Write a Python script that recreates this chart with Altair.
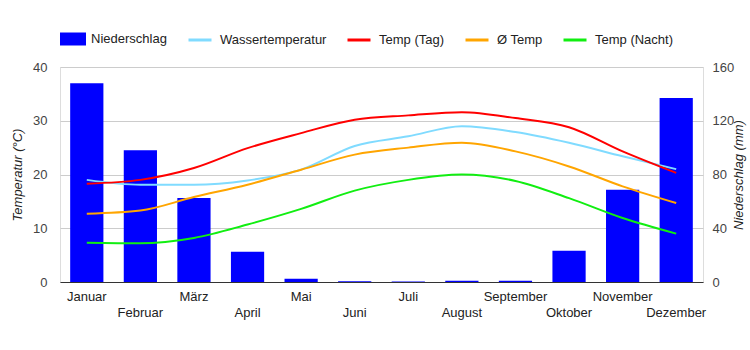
import altair as alt
import pandas as pd

months = ["Januar", "Februar", "März", "April", "Mai", "Juni", "Juli",
          "August", "September", "Oktober", "November", "Dezember"]
precip = [148, 98, 62.5, 22.5, 2.5, 0.6, 0.3, 1.0, 1.0, 23.3, 68.7, 137]
water = [19.0, 18.1, 18.1, 18.9, 20.9, 25.3, 27.1, 29.0, 27.9, 25.9, 23.4, 21.0]
day = [18.3, 19.0, 21.2, 24.9, 27.7, 30.2, 31.0, 31.6, 30.5, 28.8, 24.3, 20.3]
avg = [12.7, 13.3, 15.8, 18.1, 20.9, 23.7, 25.0, 25.9, 24.3, 21.5, 17.8, 14.7]
night = [7.3, 7.2, 8.2, 10.7, 13.6, 17.0, 19.0, 20.0, 18.8, 15.6, 11.9, 9.0]

line_names = ["Wassertemperatur", "Temp (Tag)", "Ø Temp", "Temp (Nacht)"]
line_colors = ["#80dbff", "#ff0000", "#ffa500", "#11ee11"]

df_p = pd.DataFrame({"Monat": months, "Serie": "Niederschlag", "mm": precip})
rows = []
for name, vals in zip(line_names, [water, day, avg, night]):
    for m, v in zip(months, vals):
        rows.append({"Monat": m, "Serie": name, "temp": v})
df_t = pd.DataFrame(rows)

even_second = "indexof(['Februar','April','Juni','August','Oktober','Dezember'], datum.value) >= 0 ? ['', datum.value] : datum.value"

x = alt.X(
    "Monat:N", sort=months,
    scale=alt.Scale(paddingInner=0.38, paddingOuter=0.19),
    axis=alt.Axis(title=None, labelExpr=even_second, labelAngle=0, ticks=False,
                  domainColor="#333333", labelPadding=8, labelLineHeight=16,
                  labelFontSize=13, labelColor="#222222", grid=False,
                  labelBaseline="top"),
)

bars = alt.Chart(df_p).mark_bar().encode(
    x=x,
    y=alt.Y("mm:Q", scale=alt.Scale(domain=[0, 160]),
            axis=alt.Axis(orient="right", values=[0, 40, 80, 120, 160], grid=False,
                          domain=False, ticks=False, title="Niederschlag (mm)",
                          titleFontStyle="italic", titleFontWeight="normal",
                          titleFontSize=13, titleColor="#222222", titleAngle=270,
                          titleX=35, titleY=107.5, titleAlign="center",
                          titleBaseline="middle", labelPadding=9, labelFontSize=13,
                          labelColor="#444444")),
    fill=alt.Fill("Serie:N", scale=alt.Scale(domain=["Niederschlag"], range=["#0000ff"]),
                  legend=alt.Legend(title=None, orient="none", legendX=0, legendY=-41,
                                    symbolType="M-1,-0.5H1V0.5H-1Z", symbolSize=676,
                                    symbolStrokeWidth=0, labelFontSize=13,
                                    labelColor="#222222", labelOffset=5, padding=0)),
)

lines = alt.Chart(df_t).mark_line(interpolate="monotone", strokeWidth=2).encode(
    x=x,
    y=alt.Y("temp:Q", scale=alt.Scale(domain=[0, 40]),
            axis=alt.Axis(orient="left", values=[0, 10, 20, 30, 40], grid=True,
                          gridColor="#cccccc", domain=False, ticks=False,
                          title="Temperatur (°C)", titleFontStyle="italic",
                          titleFontWeight="normal", titleFontSize=13,
                          titleColor="#222222", titleAngle=270, titleX=-43,
                          titleY=107.5, titleAlign="center", titleBaseline="middle",
                          labelPadding=13, labelFontSize=13, labelColor="#444444")),
    stroke=alt.Stroke("Serie:N", scale=alt.Scale(domain=line_names, range=line_colors),
                      legend=alt.Legend(title=None, orient="none", legendX=127, legendY=-40,
                                        direction="horizontal", columns=4,
                                        symbolType="stroke", symbolSize=529,
                                        symbolStrokeWidth=3, labelFontSize=13,
                                        labelColor="#222222", labelOffset=7,
                                        columnPadding=14, padding=0)),
)

chart = alt.layer(bars, lines).resolve_scale(y="independent").properties(
    width=643, height=215,
    padding={"left": 60, "top": 67, "right": 47, "bottom": 68},
    autosize=alt.AutoSizeParams(type="none"),
    background="white",
).configure_view(stroke=None).configure(font="Liberation Sans")

chart.save("out.html", embed_options={"renderer": "svg", "actions": False})
